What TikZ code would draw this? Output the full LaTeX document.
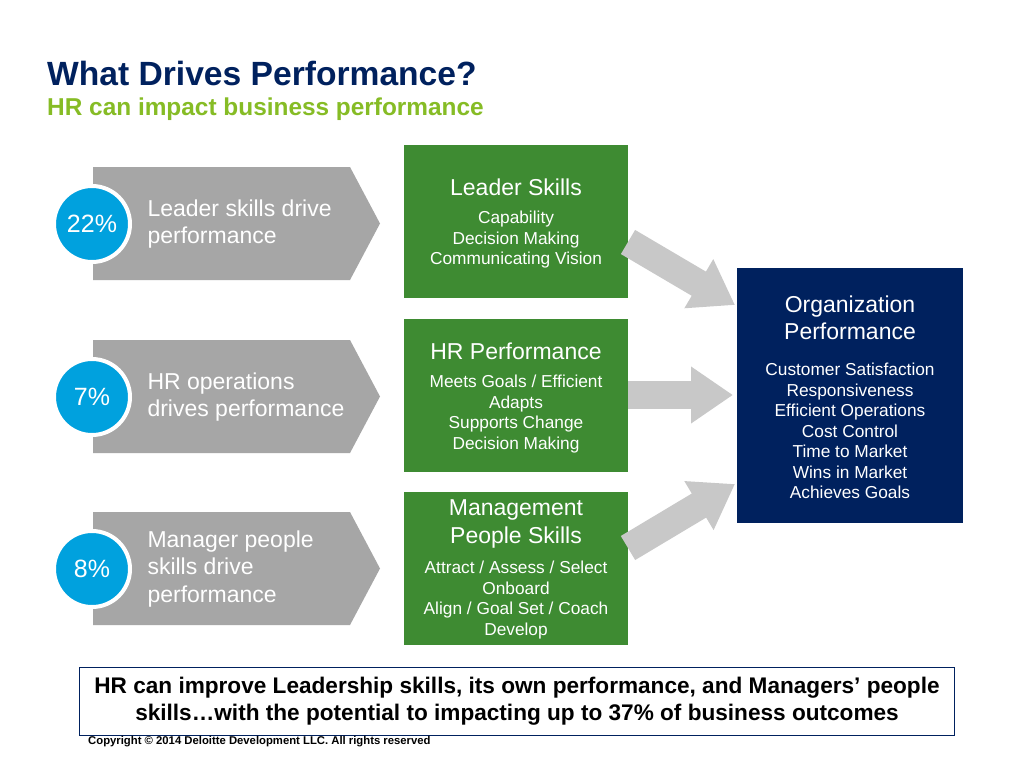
\documentclass[tikz,border=0pt]{standalone}
\usepackage{fontspec}
\setmainfont{Liberation Sans}
\usetikzlibrary{arrows.meta}
\definecolor{navy}{RGB}{0,33,94}
\definecolor{hrgreen}{RGB}{134,188,37}
\definecolor{boxgreen}{RGB}{62,139,50}
\definecolor{chev}{RGB}{166,166,166}
\definecolor{circ}{RGB}{0,161,222}
\definecolor{arr}{RGB}{200,200,200}
\tikzset{
 chevron/.style={fill=chev,draw=none},
 pct/.style={circle,fill=circ,draw=white,line width=4pt,minimum size=76pt,text=white,font=\fontsize{25}{27}\selectfont},
 chevtext/.style={anchor=west,text=white,align=left,font=\fontsize{23}{27.5}\selectfont},
 gbox/.style={fill=boxgreen,minimum width=224pt,anchor=north west,inner sep=0pt},
 gtitle/.style={text=white,align=center,font=\fontsize{23}{27.5}\selectfont},
 gitems/.style={text=white,align=center,font=\fontsize{17.3}{20.5}\selectfont},
 bigarrow/.style={draw=arr,line width=28pt,-{Triangle[length=42pt,width=54pt]}}
}
\begin{document}
\begin{tikzpicture}[x=1pt,y=-1pt]
\useasboundingbox[fill=white] (0,0) rectangle (1024,768);
\node[anchor=base west,text=navy,font=\fontsize{33.6}{35}\selectfont\bfseries,inner sep=0] (title) at (47,85) {What Drives Performance?};
\node[anchor=base west,text=hrgreen,font=\fontsize{24.4}{26}\selectfont\bfseries,inner sep=0] (sub) at (47,115) {HR can impact business performance};
% chevrons
\foreach \n/\y in {1/167,2/340,3/512}{
 \fill[chevron] (93,\y) -- (350,\y) -- (380,\y+56.5) -- (350,\y+113) -- (93,\y+113) -- cycle;
}
\node[pct] (c1) at (92,224) {22\%};
\node[pct] (c2) at (92,397) {7\%};
\node[pct] (c3) at (92,569) {8\%};
\node[chevtext] (t1) at (144,224) {Leader skills drive\\performance};
\node[chevtext] (t2) at (144,397) {HR operations\\drives performance};
\node[chevtext] (t3) at (144,569) {Manager people\\skills drive\\performance};
% green boxes
\node[gbox,minimum height=153pt] (g1) at (404,145) {};
\node[gbox,minimum height=153pt] (g2) at (404,319) {};
\node[gbox,minimum height=153pt] (g3) at (404,492) {};
\node[gtitle] (g1t) at (516,187) {Leader Skills};
\node[gitems] (g1i) at (516,240) {Capability\\Decision Making\\Communicating Vision};
\node[gtitle] (g2t) at (516,351) {HR Performance};
\node[gitems] (g2i) at (516,414) {Meets Goals / Efficient\\Adapts\\Supports Change\\Decision Making};
\node[gtitle] (g3t) at (516,524) {Management\\People Skills};
\node[gitems] (g3i) at (516,600) {Attract / Assess / Select\\Onboard\\Align / Goal Set / Coach\\Develop};
% navy box
\node[fill=navy,minimum width=226pt,minimum height=255pt,anchor=north west,inner sep=0] (org) at (737,268) {};
\node[gtitle] (orgt) at (850,318) {Organization\\Performance};
\node[gitems] (orgi) at (850,431) {Customer Satisfaction\\Responsiveness\\Efficient Operations\\Cost Control\\Time to Market\\Wins in Market\\Achieves Goals};
% arrows
\coordinate (a1s) at (628,242); \coordinate (a1e) at (735,305);
\coordinate (a2s) at (628,395); \coordinate (a2e) at (733,395);
\coordinate (a3s) at (628,548); \coordinate (a3e) at (735,484);
\draw[bigarrow] (a1s) -- (a1e);
\draw[bigarrow] (a2s) -- (a2e);
\draw[bigarrow] (a3s) -- (a3e);
% bottom
\node[draw=navy,line width=1pt,minimum width=875pt,minimum height=68pt,anchor=north west,inner sep=0] (bot) at (79,667) {};
\node[align=center,font=\fontsize{22.6}{27.5}\selectfont\bfseries] (bott) at (517,701) {HR can improve Leadership skills, its own performance, and Managers’ people\\skills…with the potential to impacting up to 37\% of business outcomes};
\node[anchor=base west,inner sep=0,font=\fontsize{11.3}{12}\selectfont\bfseries] (copy) at (88,744) {Copyright © 2014 Deloitte Development LLC. All rights reserved};
\end{tikzpicture}
\end{document}
